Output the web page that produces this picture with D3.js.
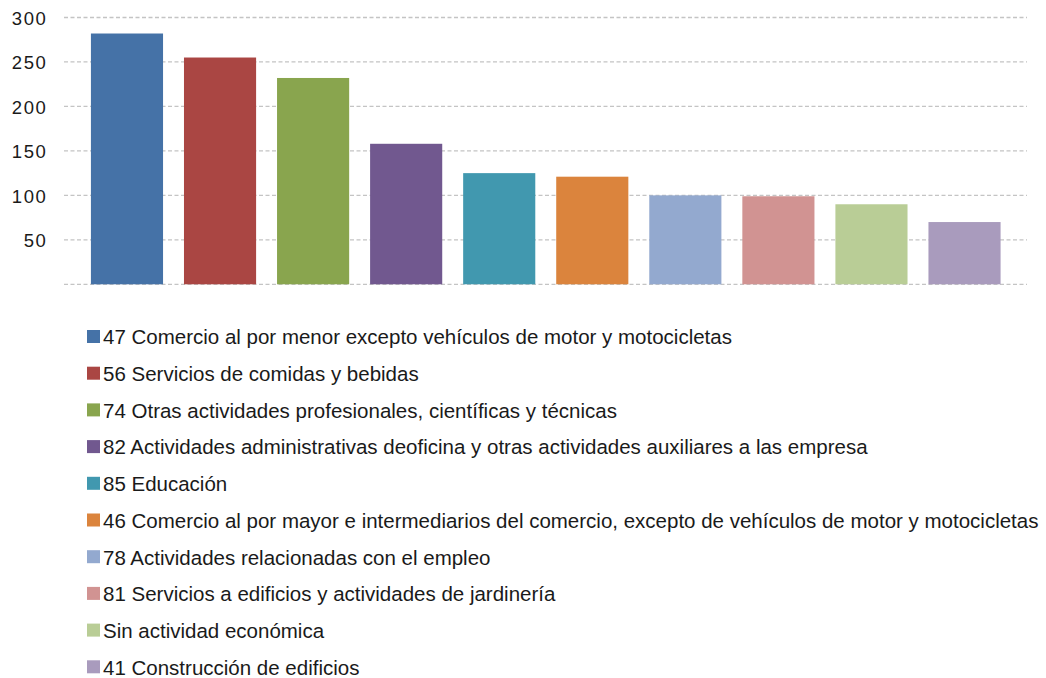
<!DOCTYPE html>
<html>
<head>
<meta charset="utf-8">
<script src="https://cdn.jsdelivr.net/npm/d3@7"></script>
<style>
  body { margin: 0; background: #fff; }
  svg { font-family: "Liberation Sans", Arial, sans-serif; }
</style>
</head>
<body>
<svg width="1046" height="678"></svg>
<script>
var width = 1046;
var height = 678;

// data
var categories = [
    "47 Comercio al por menor excepto vehículos de motor y motocicletas",
    "56 Servicios de comidas y bebidas",
    "74 Otras actividades profesionales, científicas y técnicas",
    "82 Actividades administrativas deoficina y otras actividades auxiliares a las empresa",
    "85 Educación",
    "46 Comercio al por mayor e intermediarios del comercio, excepto de vehículos de motor y motocicletas",
    "78 Actividades relacionadas con el empleo",
    "81 Servicios a edificios y actividades de jardinería",
    "Sin actividad económica",
    "41 Construcción de edificios"
];
var values = [282, 255, 232, 158, 125, 121, 100, 99, 90, 70];
var colors = ["#4572A7", "#AA4643", "#89A54E", "#71588F", "#4198AF",
              "#DB843D", "#93A9CF", "#D19392", "#B9CD96", "#A99BBD"];
var yTicks = [50, 100, 150, 200, 250, 300];

var svg = d3.select("svg");

var x = d3.scaleBand()
    .domain(categories)
    .range([80.5, 1011])
    .paddingInner(0.225)
    .paddingOuter(0.112);

var y = d3.scaleLinear()
    .domain([0, 300])
    .range([284.3, 17.5]);

//gridlines
svg.append("g")
    .selectAll("line")
    .data([0].concat(yTicks))
    .enter()
    .append("line")
    .attr("x1", 64)
    .attr("x2", 1027)
    .attr("y1", function(d){ return y(d); })
    .attr("y2", function(d){ return y(d); })
    .style("stroke", "#c4c4c4")
    .style("stroke-width", 1.3)
    .style("stroke-dasharray", "4,2.5");

//y axis labels
var axisY = d3.axisLeft(y)
    .tickValues(yTicks)
    .tickSize(0)
    .tickPadding(0);
var gy = svg.append("g")
    .attr("transform", "translate(47.5,0)")
    .call(axisY);
gy.select(".domain").remove();
gy.selectAll("text")
    .style("font-size", "18.5px")
    .style("letter-spacing", "1.6px")
    .style("fill", "#1a1a1a")
    .attr("dy", "0.36em");

//bars
svg.append("g")
    .selectAll("rect")
    .data(values)
    .enter()
    .append("rect")
    .attr("x", function(d, i){ return x(categories[i]); })
    .attr("width", x.bandwidth())
    .attr("y", function(d){ return y(d); })
    .attr("height", function(d){ return y(0) - y(d); })
    .style("fill", function(d, i){ return colors[i]; });

//legend
var legend = svg.append("g")
    .selectAll("g")
    .data(categories)
    .enter()
    .append("g")
    .attr("transform", function(d, i){ return "translate(0," + (337 + i * 36.7) + ")"; });

legend.append("rect")
    .attr("x", 87)
    .attr("y", -7)
    .attr("width", 13)
    .attr("height", 13)
    .style("fill", function(d, i){ return colors[i]; });

legend.append("text")
    .attr("x", 103)
    .attr("y", 0)
    .attr("dy", "0.36em")
    .style("font-size", "20.5px")
    .style("fill", "#1a1a1a")
    .text(function(d){ return d; });
</script>
</body>
</html>
